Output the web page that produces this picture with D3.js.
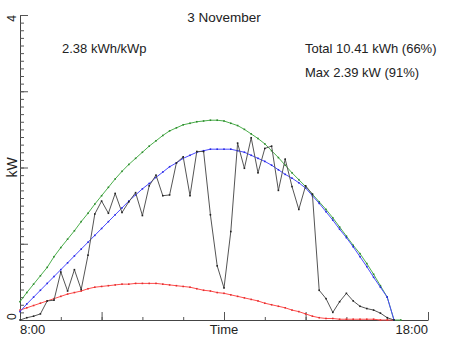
<!DOCTYPE html>
<html>
<head>
<meta charset="utf-8">
<script src="https://cdn.jsdelivr.net/npm/d3@7"></script>
<style>
  html, body { margin: 0; padding: 0; background: #fff; }
  svg { display: block; font-family: "Liberation Sans", Arial, Helvetica, sans-serif; }
</style>
</head>
<body>
<svg id="chart" width="452" height="339"></svg>
<script>
// Sample times (10-minute steps, hh:mm)
const times = [
  "8:00","8:10","8:20","8:30","8:40","8:50",
  "9:00","9:10","9:20","9:30","9:40","9:50",
  "10:00","10:10","10:20","10:30","10:40","10:50",
  "11:00","11:10","11:20","11:30","11:40","11:50",
  "12:00","12:10","12:20","12:30","12:40","12:50",
  "13:00","13:10","13:20","13:30","13:40","13:50",
  "14:00","14:10","14:20","14:30","14:40","14:50",
  "15:00","15:10","15:20","15:30","15:40","15:50",
  "16:00","16:10","16:20","16:30","16:40","16:50",
  "17:00","17:10","17:20"
];

// Measured output, kW
const measured = [
  0.00, 0.03, 0.05, 0.08, 0.25, 0.26,
  0.63, 0.38, 0.66, 0.40, 0.85, 1.39,
  1.56, 1.40, 1.66, 1.41, 1.55, 1.67,
  1.37, 1.76, 1.90, 1.63, 1.64, 2.06,
  2.14, 1.63, 2.21, 2.21, 1.38, 0.71,
  0.42, 1.16, 2.32, 1.99, 2.39, 1.93,
  2.25, 2.28, 1.70, 2.11, 1.75, 1.45,
  1.76, 1.65, 0.39, 0.28, 0.10, 0.24,
  0.35, 0.25, 0.18, 0.15, 0.13, 0.09,
  0.03, 0.00
];

// Clear-sky output, kW
const clearSky = [
  0.24, 0.36, 0.47, 0.58, 0.69, 0.83,
  0.95, 1.06, 1.17, 1.29, 1.40, 1.52,
  1.63, 1.74, 1.85, 1.95, 2.04, 2.12,
  2.20, 2.28, 2.35, 2.42, 2.48, 2.52,
  2.56, 2.58, 2.60, 2.61, 2.62, 2.62,
  2.61, 2.58, 2.55, 2.50, 2.44, 2.38,
  2.31, 2.22, 2.13, 2.03, 1.93, 1.84,
  1.75, 1.65, 1.55, 1.45, 1.34, 1.22,
  1.10, 0.98, 0.87, 0.74, 0.60, 0.45,
  0.30, 0.00, 0.00
];

// Expected output, kW
const expected = [
  0.11, 0.21, 0.30, 0.39, 0.48, 0.57,
  0.66, 0.75, 0.84, 0.93, 1.02, 1.11,
  1.20, 1.29, 1.38, 1.47, 1.56, 1.64,
  1.72, 1.79, 1.87, 1.94, 2.01, 2.06,
  2.12, 2.16, 2.20, 2.22, 2.24, 2.24,
  2.24, 2.24, 2.22, 2.20, 2.16, 2.12,
  2.08, 2.03, 1.97, 1.91, 1.86, 1.80,
  1.73, 1.63, 1.53, 1.42, 1.31, 1.19,
  1.08, 0.96, 0.83, 0.70, 0.56, 0.43,
  0.30, 0.00
];

// Diffuse output, kW
const diffuse = [
  0.13, 0.16, 0.19, 0.22, 0.25, 0.28,
  0.31, 0.34, 0.36, 0.38, 0.41, 0.43,
  0.44, 0.45, 0.46, 0.47, 0.47, 0.48,
  0.48, 0.48, 0.48, 0.47, 0.46, 0.45,
  0.44, 0.43, 0.41, 0.39, 0.38, 0.36,
  0.35, 0.33, 0.31, 0.29, 0.27, 0.25,
  0.22, 0.20, 0.18, 0.16, 0.13, 0.11,
  0.08, 0.05, 0.03, 0.02, 0.02, 0.01,
  0.01, 0.01, 0.01, 0.01, 0.01, 0.00,
  0.00, 0.00
];

const xDomain = [8, 18];
const yDomain = [0, 4];
const xHourTicks = [8, 9, 10, 11, 12, 13, 14, 15, 16, 17, 18];
const xLongTicks = [10, 13, 15];
const yMajorTicks = [0, 1, 2, 3, 4];
const yTickLabels = ["0", "4"];

const titleText = "3 November";
const yieldText = "2.38 kWh/kWp";
const totalText = "Total 10.41 kWh (66%)";
const maxText = "Max 2.39 kW (91%)";

const svg = d3.select("#chart");
const x = d3.scaleLinear().domain(xDomain).range([20, 428]);
const y = d3.scaleLinear().domain(yDomain).range([320, 15]);

const toHours = s => { const [h, m] = s.split(":").map(Number); return h + m / 60; };

// Axes: ticks point into the plot
const yMinor = d3.range(0, 4.0001, 0.1).map(v => +v.toFixed(1));
svg.append("g").attr("transform", "translate(20,0)")
  .call(d3.axisRight(y).tickValues(yMinor).tickSize(4).tickSizeOuter(0).tickFormat(""))
  .call(g => g.select(".domain").attr("stroke", "#444"))
  .call(g => g.selectAll(".tick line").attr("stroke", "#555"));
svg.append("g").attr("transform", "translate(20,0)")
  .call(d3.axisRight(y).tickValues(yMajorTicks).tickSize(8).tickSizeOuter(0).tickFormat(""))
  .call(g => g.select(".domain").remove())
  .call(g => g.selectAll(".tick line").attr("stroke", "#555"));

svg.append("g").attr("transform", "translate(0,320)")
  .call(d3.axisTop(x).tickValues(xHourTicks).tickSize(3).tickSizeOuter(0).tickFormat(""))
  .call(g => g.select(".domain").attr("stroke", "#444"))
  .call(g => g.selectAll(".tick line").attr("stroke", "#555"));
svg.append("g").attr("transform", "translate(0,320)")
  .call(d3.axisTop(x).tickValues(xLongTicks.concat([18])).tickSize(8).tickSizeOuter(0).tickFormat(""))
  .call(g => g.select(".domain").remove())
  .call(g => g.selectAll(".tick line").attr("stroke", "#555"));

// Y labels, rotated
svg.append("text")
  .attr("transform", `translate(16,${y(yDomain[0])}) rotate(-90)`)
  .attr("text-anchor", "start").attr("font-size", 12).attr("fill", "#222")
  .text(yTickLabels[0]);
svg.append("text")
  .attr("transform", `translate(16,${y(yDomain[1])}) rotate(-90)`)
  .attr("text-anchor", "end").attr("font-size", 12).attr("fill", "#222")
  .text(yTickLabels[1]);
svg.append("text")
  .attr("transform", `translate(17,${y(2)}) rotate(-90)`)
  .attr("text-anchor", "middle").attr("font-size", 14).attr("fill", "#222")
  .text("kW");

// X labels
svg.append("text").attr("x", x(8)).attr("y", 334).attr("font-size", 13).attr("fill", "#222")
  .attr("text-anchor", "start").text("8:00");
svg.append("text").attr("x", x(18)).attr("y", 334).attr("font-size", 13).attr("fill", "#222")
  .attr("text-anchor", "end").text("18:00");
svg.append("text").attr("x", x(13)).attr("y", 334).attr("font-size", 13).attr("fill", "#222")
  .attr("text-anchor", "middle").text("Time");

// Titles and summary
svg.append("text").attr("x", 224).attr("y", 22).attr("font-size", 13.5).attr("fill", "#222")
  .attr("text-anchor", "middle").text(titleText);
svg.append("text").attr("x", 62).attr("y", 52.5).attr("font-size", 13).attr("fill", "#222").text(yieldText);
svg.append("text").attr("x", 305).attr("y", 52.5).attr("font-size", 13).attr("fill", "#222").text(totalText);
svg.append("text").attr("x", 305).attr("y", 77).attr("font-size", 13).attr("fill", "#222").text(maxText);

// Series
const series = [
  { values: diffuse,  line: "#ff4a4a", dot: "#e03030" },
  { values: clearSky, line: "#4caf4c", dot: "#2e8a2e" },
  { values: expected, line: "#4a4aff", dot: "#2a2ae0" },
  { values: measured, line: "#555555", dot: "#222222" }
];

const line = d3.line().x(d => x(d.t)).y(d => y(d.v));

series.forEach(s => {
  const pts = s.values.map((v, i) => ({ t: toHours(times[i]), v }));
  svg.append("path").datum(pts)
    .attr("fill", "none").attr("stroke", s.line).attr("stroke-width", 1)
    .attr("d", line);
  svg.append("g").selectAll("rect").data(pts).join("rect")
    .attr("x", d => x(d.t) - 0.8).attr("y", d => y(d.v) - 0.8)
    .attr("width", 1.6).attr("height", 1.6).attr("fill", s.dot);
});
</script>
</body>
</html>
